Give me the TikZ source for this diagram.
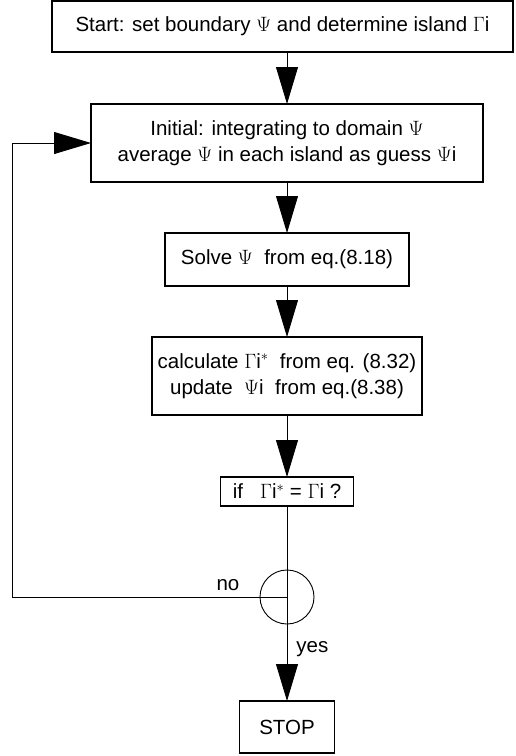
\documentclass[tikz,border=0pt]{standalone}
\usepackage{fontspec}
\setmainfont{Liberation Sans}
\usepackage{tikz}
\usetikzlibrary{arrows.meta,positioning,calc}
\tikzset{
  block/.style = {rectangle, draw, line width=1.1pt, align=center, inner sep=0pt,
    outer sep=0pt, font=\fontsize{20.5}{26}\selectfont},
  junction/.style = {circle, draw, line width=0.9pt, minimum size=54pt, inner sep=0pt,
    outer sep=0pt},
  lbl/.style = {inner sep=1pt, font=\fontsize{20.5}{26}\selectfont},
  arrow/.style = {line width=0.9pt, -{Triangle[length=37pt,width=22pt]}},
  plain/.style = {line width=0.9pt}
}
\begin{document}
\begin{tikzpicture}[x=1pt, y=-1pt, node distance=50pt, >=Stealth]
\useasboundingbox (0,0) rectangle (515,756);

\node[block, anchor=north west, minimum width=461pt, minimum height=51pt]
  (start) at (52,1) {Start: set boundary $\Psi$ and determine island $\Gamma$i};
\node[block, anchor=north, minimum width=392pt, minimum height=78pt]
  (init) at (287,104) {Initial: integrating to domain $\Psi$\\ average $\Psi$ in each island as guess $\Psi$i};
\node[block, below=51pt of init, minimum width=244pt, minimum height=53pt]
  (solve) {Solve $\Psi$\ \ from eq.(8.18)};
\node[block, below=51pt of solve, minimum width=270pt, minimum height=78pt]
  (calc) {calculate $\Gamma$i$^{*}$\ \ from eq. (8.32)\\ update\ \ $\Psi$i\ \ from eq.(8.38)};
\node[block, below=62pt of calc, minimum width=133pt, minimum height=29pt]
  (check) {if\ \ \ $\Gamma$i$^{*}$ = $\Gamma$i ?};
\node[junction, below=64pt of check] (merge) {};
\node[block, below=77pt of merge, line width=1.6pt, minimum width=95pt, minimum height=52pt]
  (stop) {STOP};

\coordinate (back) at ($(merge.center)+(-275,0)$);

\draw[arrow] (start.south -| init.north) -- (init);
\draw[arrow] (init) -- (solve);
\draw[arrow] (solve) -- (calc);
\draw[arrow] (calc) -- (check);
\draw[plain] (check) -- (merge.center);
\draw[arrow] (merge.center) -- node[lbl, pos=0.5, right=8pt] {yes} (stop);
\draw[arrow] (merge.center) -- (back) |- (init.west);
\node[lbl] (nolbl) at ($(merge.west)+(-32,-12)$) {no};

\end{tikzpicture}
\end{document}
